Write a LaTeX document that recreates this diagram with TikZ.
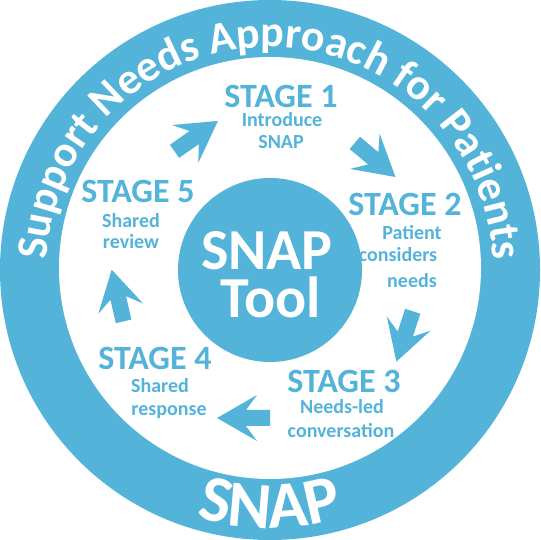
\documentclass[tikz,border=0pt]{standalone}
\usepackage{fontspec}
\setmainfont{Carlito}
\usetikzlibrary{decorations.text}
\definecolor{snapblue}{RGB}{83,179,217}
\newcommand\ringfont{\fontsize{44}{44}\selectfont\bfseries}
\newcommand\snapfont{\fontsize{66}{66}\selectfont\bfseries}
\tikzset{
  stagetitle/.style={text=snapblue, font=\fontsize{34}{34}\selectfont\bfseries, anchor=base, inner sep=0pt},
  stagetext/.style={text=snapblue, font=\fontsize{20}{20}\selectfont\bfseries, anchor=base, inner sep=0pt},
  tooltext/.style={text=white, font=\fontsize{58}{58}\selectfont\bfseries, anchor=base, inner sep=0pt},
  blockarrow/.pic={\fill[snapblue] (28,0) -- (-12,23) -- (-1,8) -- (-25,8) -- (-25,-8) -- (-1,-8) -- (-12,-23) -- cycle;}
}
\begin{document}
\begin{tikzpicture}[x=1pt,y=1pt]
\useasboundingbox (0,0) rectangle (540,540);
\fill[white] (0,0) rectangle (540,540);
% ring
\fill[snapblue] (270,270) circle[radius=270];
\fill[white] (270,272) circle[radius=211];
% centre disc
\fill[snapblue] (270,270) circle[radius=92];
\node[tooltext] (snap) at (267,270) {SNAP};
\node[tooltext] (tool) at (271,222) {Tool};
% ring texts
\path[decorate, decoration={text along path, text align=center, text color=white,
  text={|\ringfont|Support Needs Approach for Patients}}]
  (270,270) ++(180:223) arc[start angle=180, end angle=0, radius=223];
\path[decorate, decoration={text along path, text align=center, text color=white,
  text={|\snapfont|SNAP}}]
  (270,270) ++(200:258) arc[start angle=200, end angle=340, radius=258];
% stages
\node[stagetitle] (s1) at (281,432) {STAGE 1};
\node[stagetext] (s1a) at (282,413) {Introduce};
\node[stagetext] (s1b) at (281,391) {SNAP};
\node[stagetitle] (s2) at (405,324) {STAGE 2};
\node[stagetext] (s2a) at (412,300) {Patient};
\node[stagetext] (s2b) at (398,278) {considers};
\node[stagetext] (s2c) at (412,252) {needs};
\node[stagetitle] (s3) at (344,147) {STAGE 3};
\node[stagetext] (s3a) at (342,126) {Needs-led};
\node[stagetext] (s3b) at (341,102) {conversation};
\node[stagetitle] (s4) at (155,170) {STAGE 4};
\node[stagetext] (s4a) at (160,147) {Shared};
\node[stagetext] (s4b) at (169,124) {response};
\node[stagetitle] (s5) at (138,337) {STAGE 5};
\node[stagetext] (s5a) at (131,312) {Shared};
\node[stagetext] (s5b) at (131,291) {review};
% arrows
\pic[rotate=35] at (195,403) {blockarrow};
\pic[rotate=-40] at (374,381) {blockarrow};
\pic[rotate=-108] at (405,205) {blockarrow};
\pic[rotate=180] at (245,122) {blockarrow};
\pic[rotate=103] at (118,243) {blockarrow};
\end{tikzpicture}
\end{document}
